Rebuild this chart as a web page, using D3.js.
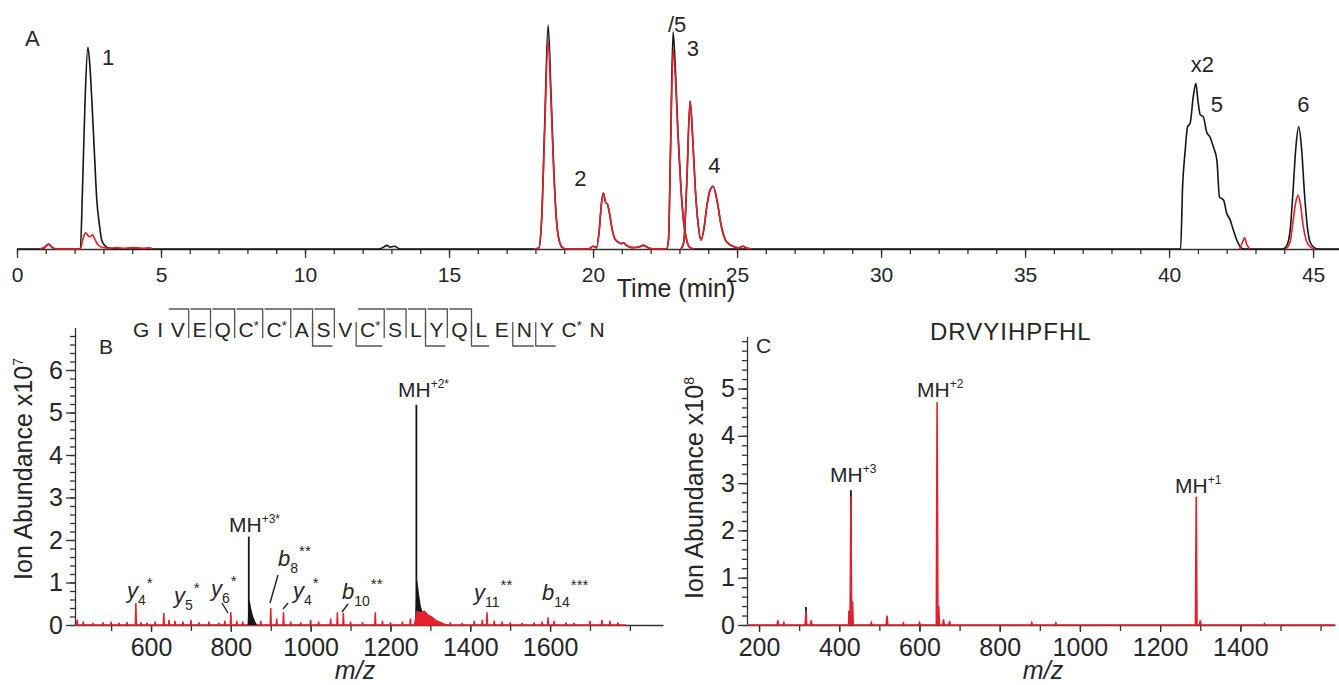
<!DOCTYPE html>
<html><head><meta charset="utf-8">
<script src="https://cdn.jsdelivr.net/npm/d3@7"></script>
<style>
body{margin:0;background:#fff}
svg{display:block}
text{font-family:"Liberation Sans",Arial,Helvetica,sans-serif;fill:#262626}
</style>
</head><body>
<svg id="c" width="1339" height="685"></svg>
<script>
// ---------------- DATA ----------------
// Panel A: chromatogram traces, [time (min), relative intensity]
const ticBlackMain = [[0,0],[0.9,0],[1.02,1.5],[1.1,2.2],[1.2,1],[1.32,0],[2.2,0],[2.27,25],[2.36,65],[2.46,90],[2.53,82],[2.6,66],[2.68,45],[2.77,22],[2.86,11],[2.94,4],[3.05,1.5],[3.2,0.4],[3.5,0],[12.6,0],[12.75,1],[12.85,1.6],[12.95,0.8],[13.1,1.2],[13.3,0],[18.0,0],[18.12,0.5],[18.22,15],[18.32,55],[18.44,100],[18.54,70],[18.63,38],[18.72,15],[18.82,4],[18.95,0.5],[19.1,0],[19.85,0],[20.0,1.2],[20.12,0.6],[20.22,9],[20.29,20],[20.36,25],[20.43,21],[20.5,20],[20.57,16],[20.66,9],[20.76,4.5],[20.88,3],[20.98,2.4],[21.06,2.8],[21.16,1.6],[21.35,0.6],[21.6,1],[21.75,1.6],[21.9,0.7],[22.1,0],[22.55,0],[22.62,4],[22.69,45],[22.78,97],[22.86,80],[22.95,52],[23.05,28],[23.15,12],[23.25,4],[23.35,0.8],[23.5,0],[40.4,0],[40.47,28],[40.56,44],[40.64,54.5],[40.73,56],[40.84,68],[40.93,74],[41.0,66.5],[41.08,60],[41.19,59],[41.31,52],[41.42,50],[41.54,45.5],[41.66,39.7],[41.75,23.2],[41.89,21.9],[42.0,16],[42.12,13],[42.23,8.5],[42.35,4],[42.47,1],[42.6,0],[43.95,0],[44.1,2],[44.2,8],[44.3,25],[44.4,45],[44.5,54.5],[44.6,45],[44.7,25],[44.8,10],[44.9,3],[45.05,0.5],[45.2,0],[45.9,0]];
const ticBlackSecond = [[23.05,0],[23.15,3],[23.25,28],[23.37,66],[23.45,52],[23.55,27],[23.65,11],[23.75,4],[23.85,9],[23.95,19],[24.07,26.5],[24.17,28],[24.3,22],[24.45,10.5],[24.6,4],[24.75,2],[24.9,1],[25.05,0.5],[25.2,1.2],[25.35,0.3],[25.5,0]];
const ticRedEarly = [[0.8,0],[0.98,1],[1.1,2],[1.22,0.6],[1.4,0],[2.2,0],[2.28,4],[2.38,7.2],[2.47,6],[2.54,5.5],[2.62,6.3],[2.7,4.5],[2.8,2],[2.95,0.8],[3.2,0.3],[3.45,0.6],[3.75,0.3],[4.05,0.7],[4.35,0.3],[4.6,0.5],[4.7,0]];
const ticRedMid = [[17.95,0],[18.12,0.5],[18.22,14],[18.32,52],[18.44,93],[18.54,66],[18.63,36],[18.72,14],[18.82,4],[18.95,0.5],[19.1,0],[19.85,0],[20.0,1.2],[20.12,0.6],[20.22,9],[20.29,20],[20.36,25],[20.43,21],[20.5,20],[20.57,16],[20.66,9],[20.76,4.5],[20.88,3],[20.98,2.4],[21.06,2.8],[21.16,1.6],[21.35,0.6],[21.6,1],[21.75,1.6],[21.9,0.7],[22.1,0],[22.55,0],[22.62,4],[22.69,42],[22.78,89],[22.86,76],[22.95,50],[23.05,27],[23.15,11],[23.25,4],[23.35,0.8],[23.5,0]];
const ticRedSecond = [[23.05,0],[23.15,3],[23.25,28],[23.37,66],[23.45,52],[23.55,27],[23.65,11],[23.75,4],[23.85,9],[23.95,19],[24.07,26.5],[24.17,28],[24.3,22],[24.45,10.5],[24.6,4],[24.75,2],[24.9,1],[25.05,0.5],[25.2,1.2],[25.35,0.3],[25.5,0]];
const ticRedLate = [[42.45,0],[42.55,3],[42.62,5],[42.7,2],[42.8,0]];
const ticRedPeak6 = [[44.05,0],[44.2,3],[44.3,12],[44.4,21],[44.48,24],[44.56,20],[44.66,10],[44.76,4],[44.9,1],[45.05,0]];
const peakLabelsA = [{t:2.95,v:82,s:"1"},{t:19.35,v:28,s:"2"},{t:22.6,v:97,s:"/5"},{t:23.25,v:86,s:"3"},{t:24.0,v:34,s:"4"},{t:40.75,v:79,s:"x2"},{t:41.45,v:61,s:"5"},{t:44.45,v:61,s:"6"}];
const timeTicksMajor = [0,5,10,15,20,25,30,35,40,45];

// Panel B: MS spectrum, [m/z, abundance x10^7]
const specBRed = [[415,0.12],[430,0.08],[455,0.05],[480,0.06],[500,0.08],[520,0.05],[540,0.07],[562,0.52],[575,0.06],[590,0.05],[610,0.08],[632,0.28],[645,0.12],[660,0.1],[680,0.08],[700,0.12],[720,0.06],[745,0.08],[770,0.05],[785,0.1],[800,0.3],[815,0.1],[830,0.08],[858,0.12],[875,0.1],[900,0.4],[915,0.15],[932,0.3],[950,0.08],[975,0.06],[1000,0.12],[1020,0.08],[1050,0.15],[1067,0.3],[1082,0.28],[1100,0.08],[1130,0.07],[1162,0.3],[1180,0.1],[1200,0.06],[1230,0.08],[1250,0.15],[1350,0.06],[1380,0.05],[1410,0.1],[1430,0.12],[1442,0.3],[1460,0.1],[1480,0.08],[1500,0.06],[1530,0.05],[1560,0.06],[1580,0.08],[1595,0.18],[1610,0.1],[1640,0.06],[1660,0.05],[1700,0.1],[1730,0.12],[1750,0.1],[1770,0.06]];
const specBRedEnvelope = [[1258,0],[1266,0.35],[1275,0.3],[1285,0.35],[1295,0.25],[1305,0.2],[1315,0.12],[1330,0.06],[1345,0]];
const specBBlack = [[845,2.08],[1265,5.18]];
const envBBlack3 = [[842,0],[845,0.6],[848,0.55],[852,0.35],[856,0.2],[861,0.08],[866,0]];
const envBBlack2 = [[1262,0],[1265,1.1],[1268,1.0],[1272,0.7],[1276,0.45],[1281,0.3],[1287,0.15],[1293,0.05],[1298,0]];
const sequenceB = ["G","I","V","E","Q","C*","C*","A","S","V","C*","S","L","Y","Q","L","E","N","Y","C*","N"];
const bIonAfter = [2,3,4,5,6,7,8,10,11,12,13,14];
const yIonBefore = [8,10,13,15,17,18];
const mzTicksB = [600,800,1000,1200,1400,1600];
const abTicksB = [0,1,2,3,4,5,6];

// Panel C: MS spectrum, [m/z, abundance x10^8]
const specCRed = [[247,0.1],[262,0.05],[317,0.3],[330,0.1],[425,0.3],[429,2.72],[433,0.5],[480,0.05],[519,0.2],[560,0.04],[600,0.05],[644,4.71],[648,0.4],[660,0.12],[675,0.08],[880,0.05],[940,0.04],[1290,2.71],[1300,0.1],[1460,0.03]];
const specCBlack = [[317,0.38],[425,0.3],[429,2.85]];
const mzTicksC = [200,400,600,800,1000,1200,1400];
const abTicksC = [0,1,2,3,4,5];

// ---------------- DRAWING ----------------
const svg = d3.select("#c");
const RED = "#e3202c", BLACK = "#161616", AX = "#333";
const fmt = d3.format("d");

function styleAxis(g, fs){
  g.selectAll("path,line").attr("stroke", AX).attr("stroke-width", 1.3);
  g.selectAll("text").attr("fill", "#262626").style("font-size", fs + "px")
   .style("font-family", '"Liberation Sans", Arial, sans-serif');
}

// ===== Panel A =====
const xA = d3.scaleLinear().domain([0, 45.9]).range([17, 1339]);
const yA = d3.scaleLinear().domain([0, 100]).range([249, 25]);
const lineA = d3.line().x(d => xA(d[0])).y(d => yA(d[1])).curve(d3.curveMonotoneX);

svg.append("g").attr("transform", "translate(0,249)")
  .call(d3.axisBottom(xA).tickValues(d3.range(0, 46)).tickSize(5).tickFormat(""))
  .call(g => g.select(".domain").remove()).call(g => styleAxis(g, 21));
svg.append("g").attr("transform", "translate(0,249)")
  .call(d3.axisBottom(xA).tickValues(timeTicksMajor).tickFormat(fmt).tickSize(9).tickPadding(9).tickSizeOuter(0))
  .call(g => styleAxis(g, 21));

[ticBlackMain, ticBlackSecond].forEach(s =>
  svg.append("path").attr("d", lineA(s)).attr("fill", "none").attr("stroke", BLACK).attr("stroke-width", 1.6));
[ticRedEarly, ticRedMid, ticRedSecond, ticRedLate, ticRedPeak6].forEach(s =>
  svg.append("path").attr("d", lineA(s)).attr("fill", "none").attr("stroke", RED).attr("stroke-width", 1.6));

svg.append("text").attr("x", 25).attr("y", 46).style("font-size", "22px").text("A");
peakLabelsA.forEach(p => svg.append("text").attr("x", xA(p.t)).attr("y", yA(p.v))
  .style("font-size", "22px").text(p.s));
svg.append("text").attr("x", 676).attr("y", 297).attr("text-anchor", "middle")
  .style("font-size", "25px").text("Time (min)");

// ===== Panel B =====
const xB = d3.scaleLinear().domain([409.5, 1883]).range([75, 663]);
const yB = d3.scaleLinear().domain([0, 7]).range([625, 327.5]);

svg.append("g").attr("transform", "translate(0,625)")
  .call(d3.axisBottom(xB).tickValues(d3.range(500, 1801, 100)).tickSize(6).tickFormat(""))
  .call(g => g.select(".domain").remove()).call(g => styleAxis(g, 25));
svg.append("g").attr("transform", "translate(0,625)")
  .call(d3.axisBottom(xB).tickValues(mzTicksB).tickFormat(fmt).tickSize(7).tickPadding(6).tickSizeOuter(0))
  .call(g => styleAxis(g, 25));
svg.append("g").attr("transform", "translate(75,0)")
  .call(d3.axisLeft(yB).tickValues(d3.range(0, 35).map(i => i * 0.2)).tickSize(5).tickFormat(""))
  .call(g => g.select(".domain").remove()).call(g => styleAxis(g, 25));
svg.append("g").attr("transform", "translate(75,0)")
  .call(d3.axisLeft(yB).tickValues(abTicksB).tickFormat(fmt).tickSize(9).tickPadding(3).tickSizeOuter(0))
  .call(g => styleAxis(g, 25));

function stickPath(data, xs, ys, from, to, w){
  const pts = [[from, 0]];
  data.slice().sort((a, b) => a[0] - b[0]).forEach(d => {
    pts.push([d[0] - w, 0], [d[0], d[1]], [d[0] + w, 0]);
  });
  pts.push([to, 0]);
  return d3.line().x(d => xs(d[0])).y(d => ys(d[1]))(pts);
}
const areaB = d3.area().x(d => xB(d[0])).y0(yB(0)).y1(d => yB(d[1]));

svg.append("path").attr("d", stickPath(specBRed, xB, yB, 412, 1790, 1.3))
  .attr("fill", "none").attr("stroke", RED).attr("stroke-width", 1.5);
[envBBlack3, envBBlack2].forEach(e => svg.append("path").attr("d", areaB(e)).attr("fill", BLACK));
specBBlack.forEach(d => svg.append("line").attr("x1", xB(d[0])).attr("x2", xB(d[0]))
  .attr("y1", yB(0)).attr("y2", yB(d[1])).attr("stroke", BLACK).attr("stroke-width", 1.8));
svg.append("path").attr("d", areaB(specBRedEnvelope)).attr("fill", RED);

svg.append("text").attr("x", 99).attr("y", 354).style("font-size", "21px").text("B");

function yTitle(cx, cy, exp){
  const t = svg.append("text").attr("transform", `translate(${cx},${cy}) rotate(-90)`)
    .attr("text-anchor", "middle").style("font-size", "25px");
  t.append("tspan").text("Ion Abundance x10");
  t.append("tspan").attr("dy", -9).style("font-size", "14px").text(exp);
}
yTitle(32, 469, "7");
svg.append("text").attr("x", 355).attr("y", 679).attr("text-anchor", "middle")
  .style("font-size", "25px").style("font-style", "italic").text("m/z");

function ion(x, y, base, sub, sup){
  const t = svg.append("text").attr("x", x).attr("y", y);
  t.append("tspan").style("font-size", "22px").style("font-style", "italic").text(base);
  t.append("tspan").attr("dy", 7).style("font-size", "14px").text(sub);
  t.append("tspan").attr("dy", -17).attr("dx", 1).style("font-size", "15px").text(sup);
}
function mh(x, y, sup, fs){
  const t = svg.append("text").attr("x", x).attr("y", y);
  t.append("tspan").style("font-size", (fs || 21) + "px").text("MH");
  t.append("tspan").attr("dy", -9).style("font-size", "12px").text(sup);
}
function tick(x1, y1, x2, y2){
  svg.append("line").attr("x1", x1).attr("y1", y1).attr("x2", x2).attr("y2", y2)
    .attr("stroke", "#222").attr("stroke-width", 1.4);
}
ion(127, 598, "y", "4", "*");
ion(174, 603, "y", "5", "*");
ion(211, 596, "y", "6", "*");
tick(222, 603, 228, 613);
mh(229, 532, "+3*", 21);
ion(278, 566, "b", "8", "**");
tick(270, 603, 278, 575);
ion(293, 598, "y", "4", "*");
tick(283, 609, 288, 603);
ion(342, 599, "b", "10", "**");
tick(342, 612, 348, 604);
mh(398, 397, "+2*", 21);
ion(474, 600, "y", "11", "**");
ion(542, 600, "b", "14", "***");

// peptide sequence with fragment marks
const seqG = svg.append("g");
let cx = 133;
const starts = [], ends = [];
sequenceB.forEach(r => {
  const t = seqG.append("text").attr("x", cx).attr("y", 337).style("font-size", "21px");
  t.append("tspan").text(r[0]);
  if (r.length > 1) t.append("tspan").attr("dy", -7).style("font-size", "13px").text(r.slice(1));
  const w = t.node().getComputedTextLength();
  starts.push(cx); ends.push(cx + w);
  cx += w + 7.8;
});
const gapMid = i => (ends[i] + starts[i + 1]) / 2;
const markStroke = "#555";
bIonAfter.forEach(i => {
  const m = gapMid(i);
  seqG.append("path").attr("d", `M${starts[i] - 2},309 H${m} V338`)
    .attr("fill", "none").attr("stroke", markStroke).attr("stroke-width", 1.3);
});
yIonBefore.forEach(i => {
  const m = gapMid(i - 1);
  seqG.append("path").attr("d", `M${m},322 V346 H${ends[i] + 2}`)
    .attr("fill", "none").attr("stroke", markStroke).attr("stroke-width", 1.3);
});

// ===== Panel C =====
const xC = d3.scaleLinear().domain([170, 1636]).range([747, 1335]);
const yC = d3.scaleLinear().domain([0, 6.1]).range([625, 336.5]);

svg.append("g").attr("transform", "translate(0,625)")
  .call(d3.axisBottom(xC).tickValues(d3.range(200, 1601, 100)).tickSize(6).tickFormat(""))
  .call(g => g.select(".domain").remove()).call(g => styleAxis(g, 25));
svg.append("g").attr("transform", "translate(0,625)")
  .call(d3.axisBottom(xC).tickValues(mzTicksC).tickFormat(fmt).tickSize(7).tickPadding(6).tickSizeOuter(0))
  .call(g => styleAxis(g, 25));
svg.append("g").attr("transform", "translate(747,0)")
  .call(d3.axisLeft(yC).tickValues(d3.range(0, 31).map(i => i * 0.2)).tickSize(5).tickFormat(""))
  .call(g => g.select(".domain").remove()).call(g => styleAxis(g, 25));
svg.append("g").attr("transform", "translate(747,0)")
  .call(d3.axisLeft(yC).tickValues(abTicksC).tickFormat(fmt).tickSize(9).tickPadding(3).tickSizeOuter(0))
  .call(g => styleAxis(g, 25));

specCBlack.forEach(d => svg.append("line").attr("x1", xC(d[0])).attr("x2", xC(d[0]))
  .attr("y1", yC(0)).attr("y2", yC(d[1])).attr("stroke", BLACK).attr("stroke-width", 1.8));
svg.append("path").attr("d", stickPath(specCRed, xC, yC, 175, 1636, 2))
  .attr("fill", RED).attr("stroke", RED).attr("stroke-width", 1.6);

svg.append("text").attr("x", 756).attr("y", 353).style("font-size", "21px").text("C");
svg.append("text").attr("x", 930).attr("y", 340).style("font-size", "24px")
  .style("letter-spacing", "1px").text("DRVYIHPFHL");
yTitle(703, 488, "8");
svg.append("text").attr("x", 1043).attr("y", 679).attr("text-anchor", "middle")
  .style("font-size", "25px").style("font-style", "italic").text("m/z");
mh(830, 482, "+3", 21);
mh(917, 397, "+2", 21);
mh(1175, 493, "+1", 21);
</script>
</body></html>
